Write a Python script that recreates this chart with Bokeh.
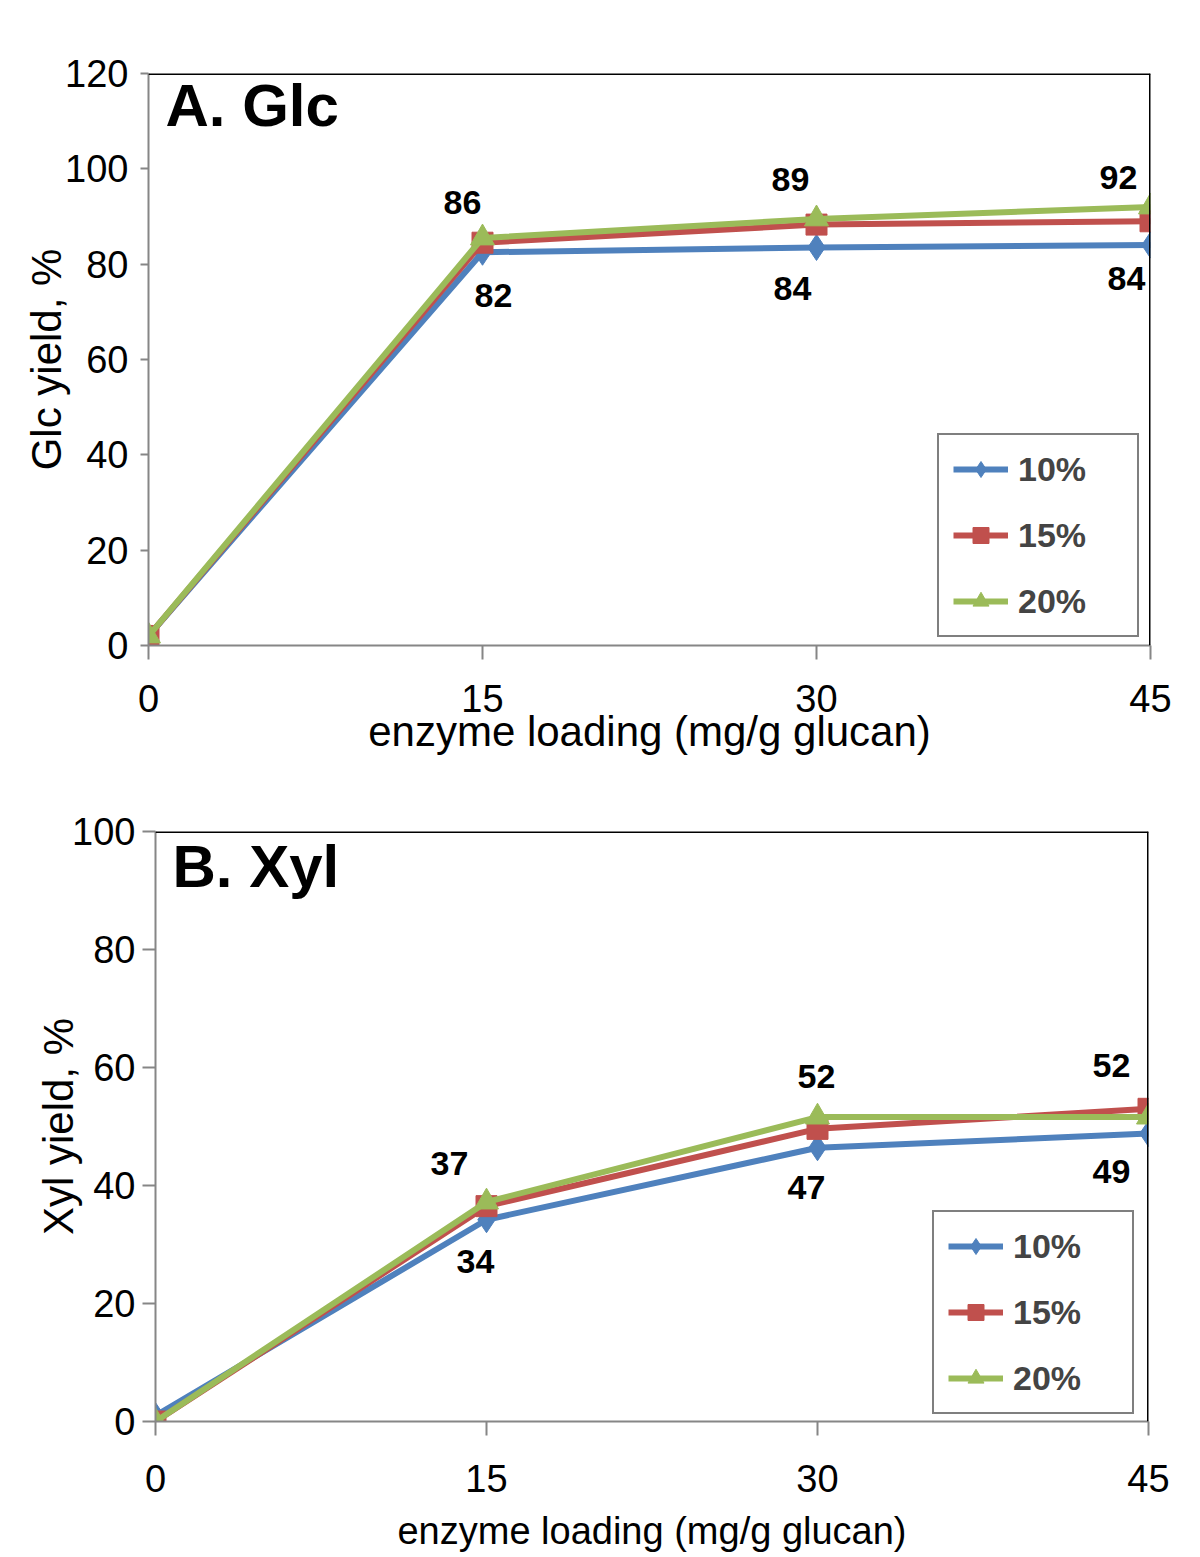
from bokeh.plotting import figure
from bokeh.models import ColumnDataSource, Legend, LegendItem, Span, Range1d, FixedTicker, Label, Spacer
from bokeh.layouts import column, row
from bokeh.embed import file_html
from bokeh.resources import INLINE
from bokeh.core.properties import value

# ---------------- data ----------------
loading = [0, 15, 30, 45]
x_ticks = [0, 15, 30, 45]
series_names = ["10%", "15%", "20%"]

glc_10 = [2, 82.5, 83.5, 84]
glc_15 = [2, 84.5, 88.3, 89]
glc_20 = [2, 85.5, 89.5, 92]
glc_top_labels = ["86", "89", "92"]
glc_bottom_labels = ["82", "84", "84"]
glc_y_ticks = [0, 20, 40, 60, 80, 100, 120]

xyl_10 = [1, 34.2, 46.4, 48.8]
xyl_15 = [0, 36.5, 49.6, 53]
xyl_20 = [0, 37.2, 51.6, 51.6]
xyl_top_labels = ["37", "52", "52"]
xyl_bottom_labels = ["34", "47", "49"]
xyl_y_ticks = [0, 20, 40, 60, 80, 100]

COLORS = ["#4F81BD", "#C0504D", "#9BBB59"]
MARKERS = ["diamond", "square", "triangle"]
MSIZES = [26, 21, 24]
FONT = "Liberation Sans"
AXIS_GRAY = "#868686"


def make_panel(title, ylabel, series, ymax, yticks, top_labels, top_off,
               bot_labels, bot_off, frame_w, frame_h, borders, ytick_out,
               ystandoff, xstandoff, ylab_standoff, xlab_standoff, xlab_size,
               legend_loc, title_pos):
    p = figure(output_backend="svg", toolbar_location=None,
               frame_width=frame_w, frame_height=frame_h,
               x_range=Range1d(0, 45), y_range=Range1d(0, ymax),
               min_border_left=borders[0], min_border_right=borders[1],
               min_border_top=borders[2], min_border_bottom=borders[3])
    p.outline_line_color = None
    p.xgrid.visible = False
    p.ygrid.visible = False

    for ax in (p.xaxis[0], p.yaxis[0]):
        ax.axis_line_color = AXIS_GRAY
        ax.axis_line_width = 2
        ax.major_tick_line_color = AXIS_GRAY
        ax.major_tick_line_width = 2
        ax.minor_tick_line_color = None
        ax.major_tick_in = 0
        ax.major_label_text_font = FONT
        ax.major_label_text_font_size = "38px"
        ax.major_label_text_color = "black"
        ax.axis_label_text_font = FONT
        ax.axis_label_text_font_style = "normal"
        ax.axis_label_text_color = "black"

    p.yaxis.axis_label_text_font_size = "42px"
    p.xaxis.axis_label_text_font_size = xlab_size
    p.xaxis.ticker = FixedTicker(ticks=x_ticks)
    p.yaxis.ticker = FixedTicker(ticks=yticks)
    p.xaxis.major_tick_out = 14
    p.yaxis.major_tick_out = ytick_out
    p.yaxis.major_label_standoff = ystandoff
    p.xaxis.major_label_standoff = xstandoff
    p.yaxis.axis_label_standoff = ylab_standoff
    p.xaxis.axis_label_standoff = xlab_standoff
    p.xaxis.axis_label = "enzyme loading (mg/g glucan)"
    p.yaxis.axis_label = ylabel

    p.add_layout(Span(location=ymax, dimension="width", line_color="black", line_width=3))
    p.add_layout(Span(location=45, dimension="height", line_color="black", line_width=3))

    items = []
    for name, ys, col, mk, ms in zip(series_names, series, COLORS, MARKERS, MSIZES):
        src = ColumnDataSource(dict(x=loading, y=ys))
        ln = p.line("x", "y", source=src, line_color=col, line_width=6)
        sc = p.scatter("x", "y", source=src, marker=mk, size=ms,
                       fill_color=col, line_color=col)
        items.append(LegendItem(label=name, renderers=[ln, sc]))

    # data labels
    top_src = ColumnDataSource(dict(x=loading[1:], y=series[2][1:], t=top_labels,
                                    dx=[o[0] for o in top_off], dy=[o[1] for o in top_off]))
    bot_src = ColumnDataSource(dict(x=loading[1:], y=series[0][1:], t=bot_labels,
                                    dx=[o[0] for o in bot_off], dy=[o[1] for o in bot_off]))
    for s in (top_src, bot_src):
        p.text("x", "y", text="t", source=s, x_offset="dx", y_offset="dy",
               text_align="center", text_baseline="middle",
               text_font=value(FONT), text_font_size="34px",
               text_font_style="bold", text_color="black")

    legend = Legend(items=items, location=legend_loc)
    legend.border_line_color = "black"
    legend.border_line_width = 2
    legend.background_fill_color = "white"
    legend.background_fill_alpha = 1
    legend.label_text_font = FONT
    legend.label_text_font_size = "34px"
    legend.label_text_font_style = "bold"
    legend.glyph_width = 55
    legend.glyph_height = 40
    legend.label_height = 40
    legend.label_width = 105
    legend.label_standoff = 10
    legend.spacing = 26
    legend.padding = 14
    legend.margin = 0
    p.add_layout(legend, "center")

    p.add_layout(Label(x=title_pos[0], y=title_pos[1], x_units="screen", y_units="screen",
                       text=title, text_font=FONT, text_font_size="60px",
                       text_font_style="bold", text_color="black",
                       text_baseline="alphabetic"))
    return p


pa = make_panel("A. Glc", "Glc yield, %", [glc_10, glc_15, glc_20], 120, glc_y_ticks,
                glc_top_labels, [(-20, -35), (-26, -39), (-32, -29)],
                glc_bottom_labels, [(11, 43), (-24, 41), (-24, 33)],
                1002, 572, (148, 42, 73, 134), 8, 12, 25, -8, -7, "42px",
                (789, 8), (17, 540))

pb = make_panel("B. Xyl", "Xyl yield, %", [xyl_10, xyl_15, xyl_20], 100, xyl_y_ticks,
                xyl_top_labels, [(-37, -39), (-1, -41), (-37, -52)],
                xyl_bottom_labels, [(-11, 42), (-11, 40), (-37, 38)],
                993, 590, (148, 44, 52, 130), 13, 7, 29, -13, 15, "38px",
                (777, 7), (17, 555))

layout = column(pa, row(Spacer(width=7), pb, spacing=0), spacing=0)
open("out.html", "w").write(file_html(layout, INLINE))
